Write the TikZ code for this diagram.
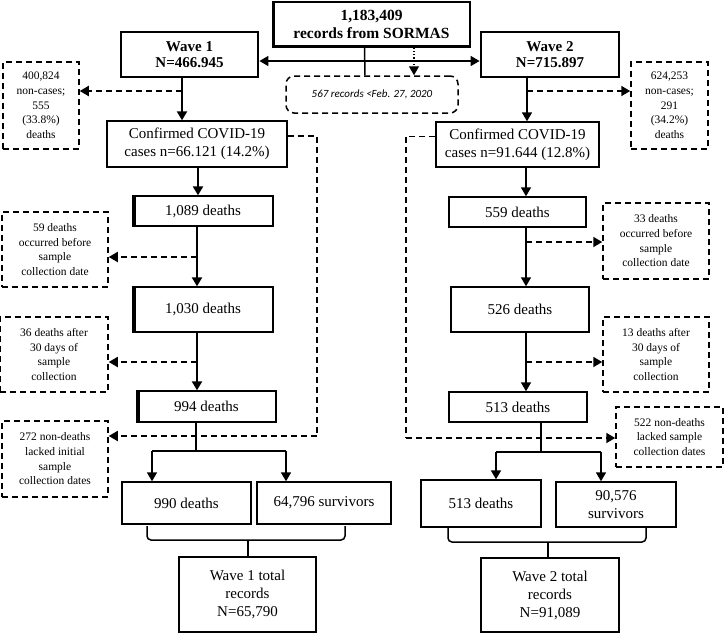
\documentclass[tikz,border=0pt]{standalone}
\usepackage{fontspec}
\setmainfont{Liberation Serif}
\newfontfamily\carlitofont{Carlito}
\usetikzlibrary{arrows.meta}
\tikzset{
  box/.style={draw, line width=1.4pt, inner sep=0pt, align=center, font=\fontsize{15}{18}\selectfont},
  wavebox/.style={box, line width=2.8pt, font=\bfseries\fontsize{15}{16.7}\selectfont},
  topbox/.style={box, line width=1.5pt, font=\bfseries\fontsize{15.5}{17.7}\selectfont},
  dbox/.style={draw, line width=1.5pt, dash pattern=on 6pt off 4pt, inner sep=0pt, align=center, font=\fontsize{11.5}{14.7}\selectfont},
  tip/.style={-{Triangle[length=9pt,width=10pt]}},
  thickarr/.style={tip, line width=2.6pt},
  thinarr/.style={tip, line width=1.6pt},
  dasharr/.style={tip, line width=1.8pt, dash pattern=on 6pt off 4pt},
  dashline/.style={line width=1.8pt, dash pattern=on 6pt off 4pt},
  plainline/.style={line width=1.5pt},
}
\begin{document}
\begin{tikzpicture}[x=1pt,y=-1pt]
\useasboundingbox (0,0) rectangle (724,633);
% top
\node[topbox, minimum width=197pt, minimum height=45pt] (top) at (371.5,24.5) {1,183,409\\records from SORMAS};
\draw[line width=1.4pt] ([xshift=2.5pt]top.north west) -- ([xshift=2.5pt,yshift=2.5pt]top.south west) -- ([yshift=2.5pt]top.south east);
\node[wavebox, minimum width=137pt, minimum height=45pt] (w1) at (189.5,54.5) {Wave 1\\N=466.945};
\node[wavebox, minimum width=138pt, minimum height=45pt] (w2) at (550,54.5) {Wave 2\\N=715.897};
\node[dbox, rounded corners=8pt, minimum width=172pt, minimum height=37pt, font=\carlitofont\itshape\fontsize{11}{13}\selectfont] (early) at (372,94.5) {567 records <Feb. 27, 2020};
\node[dbox, minimum width=76pt, minimum height=87pt] (nc1) at (41,105.5) {400,824\\non-cases;\\555\\(33.8\%)\\deaths};
\node[dbox, minimum width=77pt, minimum height=87pt] (nc2) at (669.5,105.5) {624,253\\non-cases;\\291\\(34.2\%)\\deaths};
% wave 1 chain
\node[box, minimum width=180pt, minimum height=46pt] (c1) at (197,144) {Confirmed COVID-19\\cases n=66.121 (14.2\%)};
\node[box, minimum width=140pt, minimum height=30pt] (d1a) at (203,211) {1,089 deaths};
\node[box, minimum width=140pt, minimum height=45pt] (d1b) at (203,309.5) {1,030 deaths};
\node[box, minimum width=139pt, minimum height=31pt] (d1c) at (206.5,406.5) {994 deaths};
\foreach \n in {d1a,d1b,d1c} \draw[line width=1.4pt] ([xshift=2.5pt]\n.north west) -- ([xshift=2.5pt]\n.south west);
\node[dbox, minimum width=106pt, minimum height=75pt] (x1a) at (55,249.5) {59 deaths\\occurred before\\sample\\collection date};
\node[dbox, minimum width=108pt, minimum height=75pt] (x1b) at (54,354.5) {36 deaths after\\30 days of\\sample\\collection};
\node[dbox, minimum width=106pt, minimum height=76pt] (x1c) at (55,459) {272 non-deaths\\lacked initial\\sample\\collection dates};
\node[box, minimum width=129pt, minimum height=42pt] (f1d) at (186.5,503) {990 deaths};
\node[box, minimum width=134pt, minimum height=42pt] (f1s) at (324,503) {64,796 survivors};
\node[box, minimum width=137pt, minimum height=75pt] (t1) at (247.5,594.5) {Wave 1 total\\records\\N=65,790};
% wave 2 chain
\node[box, minimum width=163pt, minimum height=45pt] (c2) at (517.5,144.5) {Confirmed COVID-19\\cases n=91.644 (12.8\%)};
\node[box, minimum width=137pt, minimum height=30pt] (d2a) at (517.5,212) {559 deaths};
\node[box, minimum width=138pt, minimum height=45pt] (d2b) at (520,309.5) {526 deaths};
\node[box, minimum width=138pt, minimum height=30pt] (d2c) at (518,407) {513 deaths};
\node[dbox, minimum width=106pt, minimum height=76pt] (x2a) at (656,241) {33 deaths\\occurred before\\sample\\collection date};
\node[dbox, minimum width=106pt, minimum height=75pt] (x2b) at (656,354.5) {13 deaths after\\30 days of\\sample\\collection};
\node[dbox, minimum width=107pt, minimum height=60pt] (x2c) at (669.5,437) {522 non-deaths\\lacked sample\\collection dates};
\node[box, minimum width=120pt, minimum height=47pt] (f2d) at (481,503.5) {513 deaths};
\node[box, minimum width=120pt, minimum height=45pt] (f2s) at (616,504.5) {90,576\\survivors};
\node[box, minimum width=138pt, minimum height=74pt] (t2) at (550,595) {Wave 2 total\\records\\N=91,089};
% junction coordinates
\coordinate (j1) at (182,91);
\coordinate (j2) at (527,91);
\coordinate (ja) at (197,257);
\coordinate (jb) at (197,362);
\coordinate (jc) at (526,242);
\coordinate (jd) at (526,362);
\coordinate (s1) at (196,451);
\coordinate (s1l) at (152,451);
\coordinate (s1r) at (286,451);
\coordinate (s2) at (541,452);
\coordinate (s2l) at (496,452);
\coordinate (s2r) at (601,452);
\coordinate (k1) at (317,136);
\coordinate (k1b) at (317,436);
\coordinate (k2) at (406,136.5);
\coordinate (k2b) at (406,438);
\coordinate (b1l) at (147,526);
\coordinate (b1r) at (345,526);
\coordinate (b1m) at (248,540);
\coordinate (b2l) at (448,527);
\coordinate (b2r) at (646,527);
\coordinate (b2m) at (548,542);
% top connectors
\draw[{Triangle[length=9pt,width=10pt]}-{Triangle[length=9pt,width=10pt]}, line width=1.5pt] ([yshift=-6.5pt]w1.east) -- ([yshift=-6.5pt]w2.west);
\draw[plainline] ([xshift=-7pt]top.south) -- ([xshift=-7pt]early.north);
\draw[tip, line width=1.2pt, dotted] ([xshift=42.5pt]top.south) -- ([xshift=42pt]early.north);
% wave 1
\draw[thickarr] ([xshift=-7.5pt]w1.south) -- ([xshift=-15pt]c1.north);
\draw[dasharr] (j1) -- (nc1.east |- j1);
\draw[thickarr] ([xshift=1pt]c1.south) -- ([xshift=-5pt]d1a.north);
\draw[thickarr] ([xshift=-6pt]d1a.south) -- ([xshift=-6pt]d1b.north);
\draw[dasharr] (ja) -- (x1a.east |- ja);
\draw[thickarr] ([xshift=-6pt]d1b.south) -- ([xshift=-9.5pt]d1c.north);
\draw[dasharr] (jb) -- (x1b.east |- jb);
\draw[dashline] (c1.east |- k1) -- (k1) -- (k1b);
\draw[dasharr] (k1b) -- (x1c.east |- k1b);
\draw[plainline] (d1c.south -| s1) -- (s1);
\draw[plainline] (s1l) -- (s1r);
\draw[thinarr] (s1l) -- (f1d.north -| s1l);
\draw[thinarr] (s1r) -- (f1s.north -| s1r);
\draw[plainline, rounded corners=4pt] (b1l) -- (b1l |- b1m) -- (b1r |- b1m) -- (b1r);
\draw[plainline] (b1m) -- (t1.north -| b1m);
% wave 2
\draw[thinarr] ([xshift=-23pt]w2.south) -- ([xshift=9.5pt]c2.north);
\draw[dasharr] (j2) -- (nc2.west |- j2);
\draw[thinarr] ([xshift=8.5pt]c2.south) -- ([xshift=8.5pt]d2a.north);
\draw[dasharr] (jc) -- (x2a.west |- jc);
\draw[thinarr] ([xshift=8.5pt]d2a.south) -- ([xshift=6pt]d2b.north);
\draw[dasharr] (jd) -- (x2b.west |- jd);
\draw[thinarr] ([xshift=6pt]d2b.south) -- ([xshift=8pt]d2c.north);
\draw[dashline] (c2.west |- k2) -- (k2) -- (k2b);
\draw[dasharr] (k2b) -- (x2c.west |- k2b);
\draw[plainline] (d2c.south -| s2) -- (s2);
\draw[plainline] (s2l) -- (s2r);
\draw[thinarr] (s2l) -- (f2d.north -| s2l);
\draw[thinarr] (s2r) -- (f2s.north -| s2r);
\draw[plainline, rounded corners=4pt] (b2l) -- (b2l |- b2m) -- (b2r |- b2m) -- (b2r);
\draw[plainline] (b2m) -- (t2.north -| b2m);
\end{tikzpicture}
\end{document}
